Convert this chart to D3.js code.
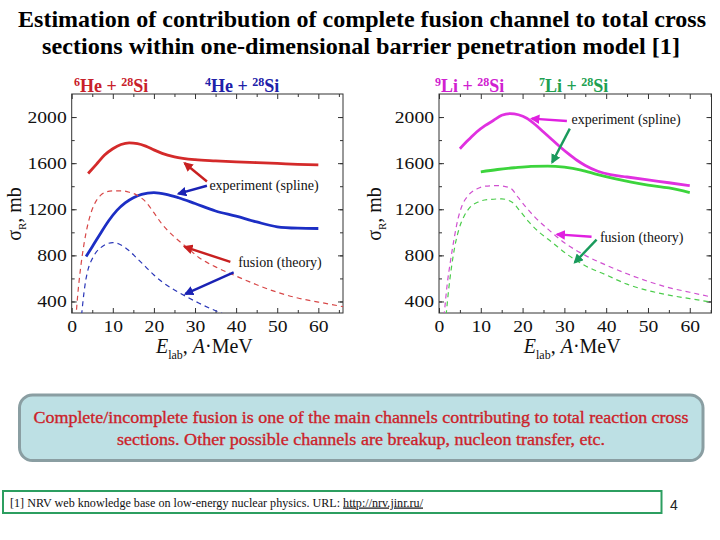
<!DOCTYPE html>
<html>
<head>
<meta charset="utf-8">
<script src="https://cdnjs.cloudflare.com/ajax/libs/d3/7.8.5/d3.min.js"></script>
<style>
  body { margin: 0; background: #fff; }
  svg { display: block; }
  svg text { font-family: "Liberation Serif", "DejaVu Serif", serif; }
  svg text.sans { font-family: "Liberation Sans", "DejaVu Sans", sans-serif; }
</style>
</head>
<body>
<script>
// values (E_lab in A*MeV, sigma_R in mb)
const yTicks = [400, 800, 1200, 1600, 2000];

// 6He + 28Si
const he6ExpE = [4, 6, 8, 10, 12, 14, 16, 18, 20, 22, 25, 30, 35, 40, 45, 50, 55, 60];
const he6ExpS = [1510, 1590, 1670, 1725, 1762, 1776, 1770, 1748, 1715, 1685, 1655, 1630, 1620, 1612, 1605, 1598, 1590, 1585];
const he6FusE = [1.0, 1.5, 2.2, 3.0, 4, 5, 6, 7, 8, 10, 12, 14, 16, 18, 20, 22, 25, 28, 31, 35, 40, 45, 50, 55, 60, 66];
const he6FusS = [250, 470, 700, 900, 1080, 1200, 1275, 1320, 1345, 1360, 1360, 1348, 1320, 1265, 1170, 1070, 960, 870, 780, 700, 620, 545, 480, 430, 395, 355];

// 4He + 28Si
const he4ExpE = [3.5, 5, 7, 9, 11, 13, 15, 17, 20, 23, 26, 30, 35, 40, 45, 50, 55, 60];
const he4ExpS = [790, 875, 990, 1100, 1190, 1255, 1300, 1330, 1345, 1330, 1300, 1250, 1185, 1140, 1090, 1048, 1036, 1033];
const he4FusE = [2.4, 3, 3.5, 4, 5, 6, 7, 8, 9, 10, 11, 12, 14, 16, 18, 20, 22, 25, 28, 31, 34, 37];
const he4FusS = [280, 480, 600, 680, 770, 830, 865, 890, 905, 910, 905, 890, 840, 770, 700, 630, 570, 500, 440, 385, 335, 290];

// 9Li + 28Si
const li9ExpE = [5, 7, 9, 11, 13, 15, 17, 19, 21, 23, 25, 27, 29, 31, 33, 35, 38, 41, 45, 50, 55, 60];
const li9ExpS = [1725, 1800, 1870, 1925, 1970, 2015, 2030, 2020, 1990, 1935, 1870, 1805, 1740, 1680, 1625, 1580, 1530, 1500, 1480, 1455, 1430, 1405];
const li9FusE = [1.2, 2, 2.7, 3.5, 4.5, 5.5, 7, 9, 11, 14, 17, 19, 21, 23, 26, 30, 35, 40, 45, 50, 55, 60, 65];
const li9FusS = [270, 560, 740, 920, 1110, 1230, 1320, 1375, 1400, 1405, 1385, 1300, 1210, 1130, 1030, 910, 800, 715, 640, 575, 520, 480, 440];

// 7Li + 28Si
const li7ExpE = [10, 14, 18, 22, 26, 30, 34, 38, 42, 46, 50, 55, 60];
const li7ExpS = [1525, 1545, 1560, 1572, 1575, 1565, 1540, 1500, 1465, 1435, 1410, 1385, 1345];
const li7FusE = [1.7, 2.3, 3, 3.8, 4.8, 6, 7.5, 9.5, 12, 15, 17.5, 19.5, 21.5, 24, 27, 31, 35, 40, 45, 50, 55, 60, 65];
const li7FusS = [280, 500, 700, 880, 1030, 1140, 1220, 1265, 1285, 1290, 1260, 1180, 1090, 1000, 915, 800, 710, 630, 550, 495, 455, 425, 395];

const zip = (xs, ys) => xs.map((v, i) => [v, ys[i]]);

const width = 720, height = 540;

const svg = d3.select("body")
    .append("svg")
    .attr("width", width)
    .attr("height", height)
    .attr("viewBox", [0, 0, width, height]);

const defs = svg.append("defs");
function marker(id, color) {
    defs.append("marker")
        .attr("id", id)
        .attr("viewBox", "0 0 10 10")
        .attr("refX", 8).attr("refY", 5)
        .attr("markerWidth", 4).attr("markerHeight", 4)
        .attr("markerUnits", "strokeWidth")
        .attr("orient", "auto")
        .append("path")
        .attr("d", "M0,0 L10,5 L0,10 z")
        .attr("fill", color);
}

// title
const title = ["Estimation of contribution of complete fusion channel to total cross",
               "sections within one-dimensional barrier penetration model [1]"];
svg.append("text")
    .attr("x", 362).attr("y", 26.5)
    .attr("text-anchor", "middle")
    .attr("font-weight", "bold").attr("font-size", 23)
    .attr("textLength", 688).attr("lengthAdjust", "spacingAndGlyphs")
    .text(title[0]);
svg.append("text")
    .attr("x", 361).attr("y", 53.5)
    .attr("text-anchor", "middle")
    .attr("font-weight", "bold").attr("font-size", 23)
    .attr("textLength", 638).attr("lengthAdjust", "spacingAndGlyphs")
    .text(title[1]);

const panels = [
    {
        id: "a", left: 71.7, right: 343, xMax: 66,
        series: [
            {data: zip(he6ExpE, he6ExpS), color: "#d42a2a", dash: null},
            {data: zip(he4ExpE, he4ExpS), color: "#1c2ec4", dash: null},
            {data: zip(he6FusE, he6FusS), color: "#d84848", dash: "5,4"},
            {data: zip(he4FusE, he4FusS), color: "#2a36b8", dash: "5,4"}
        ],
        labels: [
            {x: 74, text: ["6", "He + ", "28", "Si"], color: "#c8202a"},
            {x: 205, text: ["4", "He + ", "28", "Si"], color: "#2020a8"}
        ],
        expText: [33.5, 1370], fusText: [40.5, 698],
        arrows: [
            {from: [32.9, 1441], to: [27.5, 1599], color: "#c82020"},
            {from: [32.9, 1404], to: [26.0, 1335], color: "#1a22b4"},
            {from: [38.6, 744], to: [27.5, 873], color: "#c82020"},
            {from: [39.4, 653], to: [27.7, 466], color: "#1a22b4"}
        ],
        yTitleX: 21
    },
    {
        id: "b", left: 439, right: 711.5, xMax: 65.2,
        series: [
            {data: zip(li9ExpE, li9ExpS), color: "#e030e0", dash: null},
            {data: zip(li7ExpE, li7ExpS), color: "#3cd43c", dash: null},
            {data: zip(li9FusE, li9FusS), color: "#d050d0", dash: "5,4"},
            {data: zip(li7FusE, li7FusS), color: "#4ccc4c", dash: "5,4"}
        ],
        labels: [
            {x: 435, text: ["9", "Li + ", "28", "Si"], color: "#d020d0"},
            {x: 539, text: ["7", "Li + ", "28", "Si"], color: "#20a050"}
        ],
        expText: [31.7, 1943], fusText: [38.5, 913],
        arrows: [
            {from: [30.6, 1966], to: [22.2, 1986], color: "#e020e0"},
            {from: [31.3, 1900], to: [27.1, 1608], color: "#1a9a5c"},
            {from: [36.5, 962], to: [28.3, 982], color: "#e020e0"},
            {from: [37.7, 936], to: [32.5, 739], color: "#1a9a5c"}
        ],
        yTitleX: 381
    }
];

const plotTop = 94, plotBottom = 313;

panels.forEach(p => {
    const x = d3.scaleLinear().domain([0, p.xMax]).range([p.left, p.right]);
    const y = d3.scaleLinear().domain([300, 2200]).range([plotBottom, plotTop]);
    const g = svg.append("g");

    defs.append("clipPath").attr("id", "clip-" + p.id)
        .append("rect")
        .attr("x", p.left).attr("y", plotTop)
        .attr("width", p.right - p.left).attr("height", plotBottom - plotTop);

    const majorX = d3.range(0, p.xMax + 0.01, 10);
    const minorX = d3.range(5, p.xMax, 10);
    const minorY = d3.range(400, 2200, 200);

    const styleAxis = sel => {
        sel.attr("font-family", null);
        sel.select(".domain").remove();
        sel.selectAll("text")
            .attr("font-size", 16).attr("fill", "#111")
            .attr("textLength", function() { return this.textContent.length * 9.8; })
            .attr("lengthAdjust", "spacingAndGlyphs");
        sel.selectAll("line").attr("stroke", "#333");
    };

    // minor ticks on all four sides
    g.append("g").attr("transform", `translate(0,${plotBottom})`)
        .call(d3.axisBottom(x).tickValues(minorX).tickSize(-3).tickFormat("")).call(styleAxis);
    g.append("g").attr("transform", `translate(0,${plotTop})`)
        .call(d3.axisTop(x).tickValues(minorX).tickSize(-3).tickFormat("")).call(styleAxis);
    g.append("g").attr("transform", `translate(${p.left},0)`)
        .call(d3.axisLeft(y).tickValues(minorY).tickSize(-3).tickFormat("")).call(styleAxis);
    g.append("g").attr("transform", `translate(${p.right},0)`)
        .call(d3.axisRight(y).tickValues(minorY).tickSize(-3).tickFormat("")).call(styleAxis);

    // major ticks with labels
    g.append("g").attr("transform", `translate(0,${plotBottom})`)
        .call(d3.axisBottom(x).tickValues(majorX).tickSize(-5).tickPadding(8).tickFormat(d3.format("d"))).call(styleAxis);
    g.append("g").attr("transform", `translate(0,${plotTop})`)
        .call(d3.axisTop(x).tickValues(majorX).tickSize(-5).tickFormat("")).call(styleAxis);
    g.append("g").attr("transform", `translate(${p.left},0)`)
        .call(d3.axisLeft(y).tickValues(yTicks).tickSize(-5).tickPadding(5).tickFormat(d3.format("d"))).call(styleAxis);
    g.append("g").attr("transform", `translate(${p.right},0)`)
        .call(d3.axisRight(y).tickValues(yTicks).tickSize(-5).tickFormat("")).call(styleAxis);

    // frame
    g.append("rect")
        .attr("x", p.left).attr("y", plotTop)
        .attr("width", p.right - p.left).attr("height", plotBottom - plotTop)
        .attr("fill", "none").attr("stroke", "#333").attr("stroke-width", 1);

    // curves
    const line = d3.line()
        .curve(d3.curveMonotoneX)
        .x(d => x(d[0]))
        .y(d => y(d[1]));

    const curves = g.append("g").attr("clip-path", `url(#clip-${p.id})`);
    p.series.forEach(s => {
        curves.append("path")
            .datum(s.data)
            .attr("fill", "none")
            .attr("stroke", s.color)
            .attr("stroke-width", s.dash ? 1.2 : 2.8)
            .attr("stroke-dasharray", s.dash)
            .attr("d", line);
    });

    // reaction labels
    p.labels.forEach(l => {
        const t = svg.append("text")
            .attr("x", l.x).attr("y", 91.5)
            .attr("font-weight", "bold").attr("font-size", 18)
            .attr("fill", l.color);
        t.append("tspan").attr("font-size", 12).attr("dy", -6).text(l.text[0]);
        t.append("tspan").attr("dy", 6).text(l.text[1]);
        t.append("tspan").attr("font-size", 12).attr("dy", -6).text(l.text[2]);
        t.append("tspan").attr("dy", 6).text(l.text[3]);
    });

    // annotations
    p.arrows.forEach((a, i) => {
        const mid = `arrow-${p.id}-${i}`;
        marker(mid, a.color);
        g.append("line")
            .attr("x1", x(a.from[0])).attr("y1", y(a.from[1]))
            .attr("x2", x(a.to[0])).attr("y2", y(a.to[1]))
            .attr("stroke", a.color).attr("stroke-width", 2.4)
            .attr("marker-end", `url(#${mid})`);
    });
    g.append("text")
        .attr("x", x(p.expText[0])).attr("y", y(p.expText[1]))
        .attr("font-size", 14).attr("fill", "#111")
        .text("experiment (spline)");
    g.append("text")
        .attr("x", x(p.fusText[0])).attr("y", y(p.fusText[1]))
        .attr("font-size", 14).attr("fill", "#111")
        .text("fusion (theory)");

    // axis titles
    const xt = g.append("text")
        .attr("x", (p.left + p.right) / 2 - 3).attr("y", 353)
        .attr("text-anchor", "middle")
        .attr("font-size", 20).attr("fill", "#111");
    xt.append("tspan").attr("font-style", "italic").text("E");
    xt.append("tspan").attr("font-size", 12).attr("dy", 6).text("lab");
    xt.append("tspan").attr("dy", -6).text(", ");
    xt.append("tspan").attr("font-style", "italic").text("A");
    xt.append("tspan").text("\u00b7MeV");

    const yt = g.append("text")
        .attr("transform", `translate(${p.yTitleX},214) rotate(-90)`)
        .attr("text-anchor", "middle")
        .attr("font-size", 20).attr("fill", "#111");
    yt.append("tspan").text("\u03c3");
    yt.append("tspan").attr("font-size", 11).attr("dy", 5).text("R");
    yt.append("tspan").attr("dy", -5).text(", mb");
});

// summary box
svg.append("rect")
    .attr("x", 19.5).attr("y", 395)
    .attr("width", 683.5).attr("height", 65.5)
    .attr("rx", 13).attr("ry", 13)
    .attr("fill", "#bde0e4").attr("stroke", "#8a9ea2").attr("stroke-width", 3);
const boxLines = ["Complete/incomplete fusion is one of the main channels contributing to total reaction cross",
                  "sections. Other possible channels are breakup, nucleon transfer, etc."];
const boxWidths = [655, 488];
boxLines.forEach((s, i) => {
    svg.append("text")
        .attr("x", 361).attr("y", 423 + i * 22)
        .attr("text-anchor", "middle")
        .attr("font-size", 17)
        .attr("textLength", boxWidths[i]).attr("lengthAdjust", "spacingAndGlyphs")
        .attr("fill", "#cc1f2a").attr("stroke", "#cc1f2a").attr("stroke-width", 0.35)
        .text(s);
});

// footnote
svg.append("rect")
    .attr("x", 3).attr("y", 491)
    .attr("width", 658.5).attr("height", 22)
    .attr("fill", "#fff").attr("stroke", "#2c9e60").attr("stroke-width", 2);
const fn = svg.append("text")
    .attr("x", 10).attr("y", 506.5)
    .attr("font-size", 12).attr("fill", "#111")
    .attr("textLength", 413).attr("lengthAdjust", "spacingAndGlyphs");
fn.append("tspan").text("[1] NRV web knowledge base on low-energy nuclear physics. URL: ");
fn.append("tspan").attr("text-decoration", "underline").text("http://nrv.jinr.ru/");

svg.append("text")
    .attr("class", "sans")
    .attr("x", 670).attr("y", 510)
    .attr("font-size", 14).attr("fill", "#222")
    .text("4");
</script>
</body>
</html>
